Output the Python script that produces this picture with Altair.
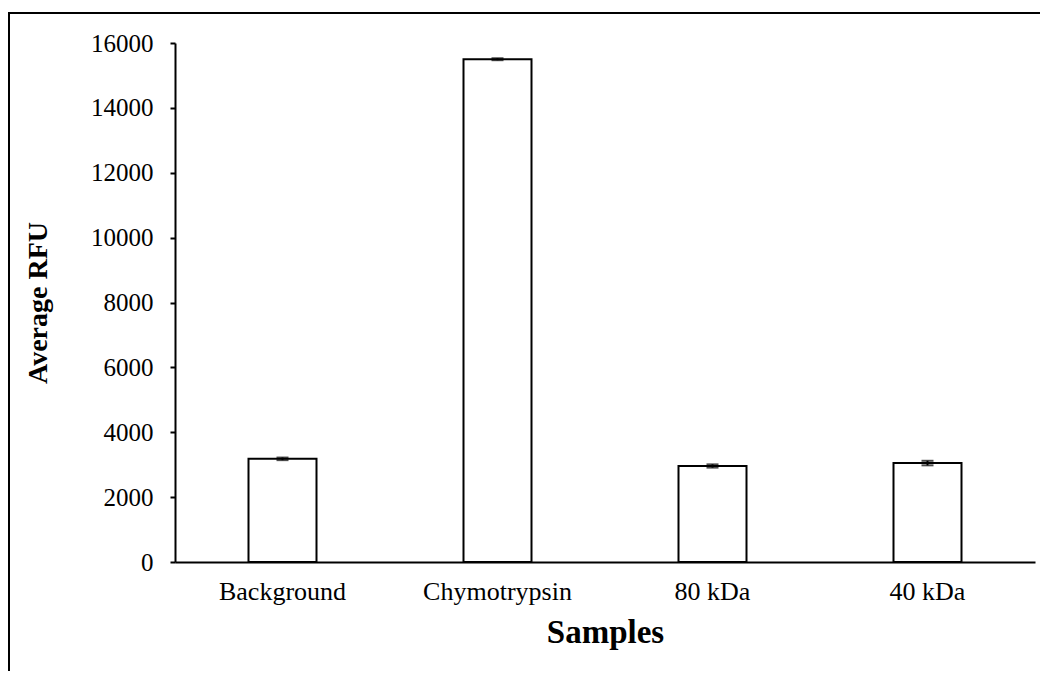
import altair as alt
import pandas as pd

samples = ["Background", "Chymotrypsin", "80 kDa", "40 kDa"]
rfu = [3180, 15500, 2960, 3050]
err = [40, 30, 50, 70]

df = pd.DataFrame({"Sample": samples, "RFU": rfu, "err": err})
df["lo"] = df["RFU"] - df["err"]
df["hi"] = df["RFU"] + df["err"]

FONT = "Liberation Serif"

x_enc = alt.X("Sample:N", sort=samples, title="Samples",
              scale=alt.Scale(paddingInner=0, paddingOuter=0),
              axis=alt.Axis(labelAngle=0, ticks=False, labelPadding=16, titlePadding=12,
                            labelFontSize=26, titleFontSize=33))
y_enc = alt.Y("RFU:Q", title="Average RFU",
              scale=alt.Scale(domain=[0, 16000], nice=False),
              axis=alt.Axis(values=list(range(0, 16001, 2000)), format="d", grid=False,
                            tickSize=5, labelPadding=17, titlePadding=38,
                            labelFontSize=25, titleFontSize=28))

base = alt.Chart(df)

bars = base.mark_bar(fill="white", stroke="black", strokeWidth=2, size=68).encode(
    x=x_enc, y=y_enc)

rules = base.mark_rule(color="black", strokeWidth=2).encode(
    x=x_enc, y=alt.Y("lo:Q", title="Average RFU"), y2="hi:Q")
cap_lo = base.mark_tick(color="black", thickness=2, size=12).encode(
    x=x_enc, y=alt.Y("lo:Q", title="Average RFU"))
cap_hi = base.mark_tick(color="black", thickness=2, size=12).encode(
    x=x_enc, y=alt.Y("hi:Q", title="Average RFU"))

border_left = alt.Chart(pd.DataFrame({"a": [0]})).mark_rule(color="black", strokeWidth=2).encode(
    x=alt.value(-166), y=alt.value(-30), y2=alt.value(700))
border_top = alt.Chart(pd.DataFrame({"a": [0]})).mark_rule(color="black", strokeWidth=2).encode(
    x=alt.value(-167), x2=alt.value(900), y=alt.value(-30))

chart = alt.layer(bars, rules, cap_lo, cap_hi, border_left, border_top).properties(
    width=860, height=519,
    autosize=alt.AutoSizeParams(type="none"),
    padding={"left": 167, "top": 35, "right": 5, "bottom": 109},
    background="white",
).configure_view(
    stroke=None
).configure_axis(
    labelFont=FONT, titleFont=FONT,
    titleFontWeight="bold", labelColor="black", titleColor="black",
    domainColor="black", domainWidth=2, tickColor="black", tickWidth=2, grid=False,
)

chart.save("out.html", embed_options={"renderer": "svg", "actions": False})
